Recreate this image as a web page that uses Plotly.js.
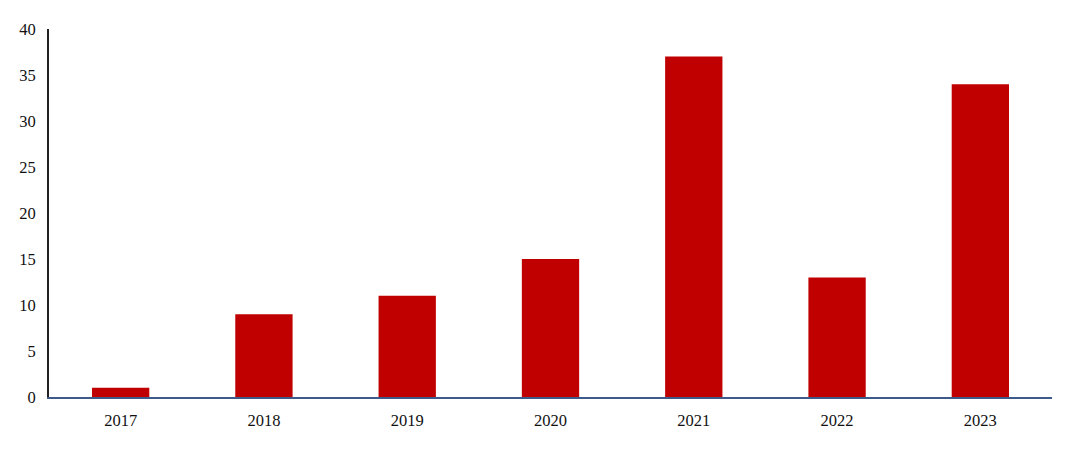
<!DOCTYPE html>
<html>
<head>
<meta charset="utf-8">
<script src="https://cdn.plot.ly/plotly-3.0.1.min.js"></script>
<style>html,body{margin:0;padding:0;background:#fff;}#chart{width:1080px;height:449px;}</style>
</head>
<body>
<div id="chart"></div>
<script>
const categories = ["2017","2018","2019","2020","2021","2022","2023"];
const values = [1, 9, 11, 15, 37, 13, 34];
const yTicks = [0,5,10,15,20,25,30,35,40];

const trace = {
  type: "bar",
  x: categories,
  y: values,
  marker: {color: "#C00000"},
  width: 0.4,
  hoverinfo: "x+y"
};
const layout = {
  width: 1080, height: 449,
  margin: {l: 49, r: 28, t: 29, b: 52},
  paper_bgcolor: "#fff", plot_bgcolor: "#fff",
  font: {family: "Liberation Serif, Times New Roman, serif", size: 16, color: "#111"},
  showlegend: false,
  bargap: 0.6,
  xaxis: {
    type: "category",
    showgrid: false, zeroline: false,
    showline: true, linecolor: "#3D5A8A", linewidth: 1.5,
    ticks: "", ticklabelstandoff: 8, tickfont: {size: 16.5}
  },
  yaxis: {
    range: [0, 40], tickvals: yTicks,
    showgrid: false, zeroline: false,
    showline: true, linecolor: "#222", linewidth: 2,
    ticks: "", ticklabelstandoff: 8, tickfont: {size: 16.5}
  }
};
Plotly.newPlot("chart", [trace], layout, {displayModeBar: false, staticPlot: true});
</script>
</body>
</html>
